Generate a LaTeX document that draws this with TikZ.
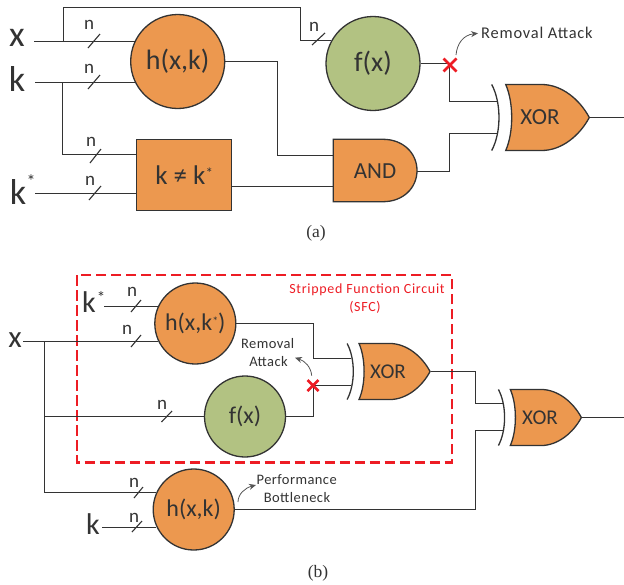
\documentclass[tikz,border=0pt]{standalone}
\usepackage{fontspec}
\setmainfont{Carlito}
\newfontfamily\capfont{Liberation Serif}
\newfontfamily\smallfont[LetterSpace=5]{Carlito}
\newfontfamily\smallfontb[LetterSpace=3]{Carlito}
\usetikzlibrary{arrows.meta}
\definecolor{orng}{HTML}{EC984F}
\definecolor{grn}{HTML}{B2C282}
\definecolor{ink}{HTML}{333333}
\definecolor{inkb}{HTML}{555555}
\definecolor{redc}{HTML}{ED1C24}
\newcommand{\fs}[1]{\fontsize{#1}{#1}\selectfont}
\tikzset{
  wire/.style={draw=ink,line width=1.3pt,line join=miter},
  thin wire/.style={draw=ink,line width=1.1pt},
  blockc/.style={circle,draw=ink,line width=1.3pt,inner sep=0pt,text=ink},
  orangec/.style={blockc,fill=orng},
  greenc/.style={blockc,fill=grn},
  bigc/.style={minimum size=94pt,font=\fs{28}},
  smallc/.style={minimum size=81pt,font=\fs{24}},
  rectb/.style={draw=ink,line width=1.3pt,fill=orng},
  lab/.style={inner sep=0pt,text=ink},
  biglab/.style={lab,font=\fs{36}},
  nlab/.style={lab,font=\fs{19}},
  note/.style={lab,font=\smallfont\fs{16.4}},
  notesmall/.style={lab,font=\smallfontb\fs{14.5}},
  gatelab/.style={lab,font=\fs{23}},
  rednote/.style={lab,font=\smallfont\fs{14},text=redc},
  callout/.style={draw=inkb,line width=.8pt,-{Stealth[length=7pt,width=6pt]}},
  cross/.style={draw=redc,line width=2.5pt},
  sfcbox/.style={draw=redc,line width=2.4pt,dash pattern=on 10.5pt off 4.5pt},
  caplabel/.style={lab,font=\capfont\fs{17.5}}
}
% #1 x of body left, #2 y of the middle, #3 scale
\newcommand{\xorgate}[3]{%
  \begin{scope}[shift={(#1,#2)},scale=#3]
    \draw[rectb] (0,-33) -- (36,-33) .. controls (56,-33) and (74,-18) .. (83.6,0)
      .. controls (74,18) and (56,33) .. (36,33) -- (0,33)
      .. controls (8,15) and (8,-15) .. (0,-33) -- cycle;
    \draw[wire] (-14,-33) .. controls (-4.3,-15) and (-4.3,15) .. (-14,33);
  \end{scope}}
% #1 name, #2/#3 slash start, #4/#5 slash end, #6/#7 position of the n
\newcommand{\busmark}[7]{%
  \draw[thin wire] (#2,#3) -- (#4,#5);
  \node[nlab] (#1) at (#6,#7) {n};}
\newcommand{\redx}[3]{%
  \draw[cross] (#1-#3,#2-#3) -- (#1+#3,#2+#3) (#1-#3,#2+#3) -- (#1+#3,#2-#3);}
\begin{document}
\begin{tikzpicture}[x=1pt,y=-1pt]
\useasboundingbox (0,0) rectangle (624,584);
% ---------- (a) ----------
\node[orangec,bigc] (h1) at (177.7,61.5) {h(x,k)};
\node[greenc,bigc] (f1) at (373,63.5) {f(x)};
\node[rectb,minimum width=95pt,minimum height=71pt,inner sep=0pt,anchor=north west,text=ink,font=\fs{27}] (cmp) at (136,139) {k ≠ k\raisebox{6pt}{\fs{15}*}};
\draw[rectb] (333.3,139.3) -- (383,139.3) .. controls (403,139.3) and (417,153) .. (417,170.5)
  .. controls (417,188) and (403,201.7) .. (383,201.7) -- (333.3,201.7) -- cycle;
\node[gatelab] (and1) at (375,171) {AND};
\xorgate{505.7}{117.5}{1}
\node[gatelab] (xor1) at (540,117.5) {XOR};

\node[biglab] (lx1) at (17,38) {x};
\node[biglab] (lk1) at (17,79) {k};
\node[biglab] (lks) at (18,192) {k};
\node[lab,font=\fs{18}] (lkss) at (31,181) {*};

\coordinate (ax) at (34,41.5);
\coordinate (ak) at (35,82.5);
\coordinate (aks) at (35,193.5);
\coordinate (bx) at (63.5,41.5);
\coordinate (bk) at (62.5,82.5);
\coordinate (bt) at (300.5,7.5);
\coordinate (fin) at (300.5,40.5);
\coordinate (cmpA) at (62.5,154.5);
\coordinate (andA) at (333.3,155.5);
\coordinate (andB) at (333.3,186.5);
\coordinate (andO) at (417,171.5);
\coordinate (xorA) at (497,101.5);
\coordinate (xorB) at (498,133.5);
\coordinate (xorO) at (589.3,117.5);
\coordinate (aout) at (624,117.5);

\draw[wire] (ax) -- (ax -| h1.155.2);
\draw[wire] (ak) -- (ak -| h1.206.2);
\draw[wire] (bx) |- (bt) -- (fin) -- (fin -| f1.151.1);
\draw[wire] (bk) -- (cmpA) -- (cmpA -| cmp.west);
\draw[wire] (aks) -- (aks -| cmp.west);
\draw[wire] (h1.east) -| (277.5,155.5) -- (andA);
\draw[wire] (andB -| cmp.east) -- (andB);
\draw[wire] (f1.east) -| (449.5,101.5) -- (xorA);
\draw[wire] (andO) -| (449.5,133.5) -- (xorB);
\draw[wire] (xorO) -- (aout);

\busmark{na1}{88}{48}{100}{34}{89}{25}
\busmark{na2}{88}{89}{100}{75}{89}{69}
\busmark{na3}{90}{163}{101}{149}{91}{142}
\busmark{na4}{89}{200}{101}{186}{90}{181}
\busmark{na5}{312}{45}{325}{33}{314}{27}

\redx{450}{65}{6.5}
\node[note,anchor=west] (rem1) at (481,33) {Removal Attack};
\draw[callout,shorten >=3pt] (456,55) .. controls (457,44) and (463,35) .. (rem1.west);
\node[caplabel] (capa) at (316,233) {(a)};

% ---------- (b) ----------
\draw[sfcbox] (77,275) rectangle (451.7,462.3);
\node[rednote] (sfc1) at (367,289.5) {Stripped Function Circuit};
\node[rednote] (sfc2) at (365,307.5) {(SFC)};

\node[orangec,smallc] (h2) at (195.3,323.5) {h(x,k\raisebox{5pt}{\fs{12}*})};
\node[greenc,smallc] (f2) at (245,416.5) {f(x)};
\node[orangec,smallc] (h3) at (193.7,509.5) {h(x,k)};
\xorgate{359}{371.5}{.85}
\node[gatelab,font=\fs{21}] (xor2) at (388,372) {XOR};
\xorgate{510.3}{417.5}{.85}
\node[gatelab,font=\fs{21}] (xor3) at (540,418) {XOR};

\node[biglab,font=\fs{31}] (lx2) at (15,340) {x};
\node[biglab,font=\fs{30}] (lks2) at (89,302) {k};
\node[lab,font=\fs{17}] (lks2s) at (101,297) {*};
\node[biglab,font=\fs{30}] (lk2) at (93,524.5) {k};

\coordinate (cx) at (23,341.5);
\coordinate (cb) at (44.5,341.5);
\coordinate (cb2) at (44.5,492.5);
\coordinate (cm) at (44.5,416.5);
\coordinate (ck) at (102,527.5);
\coordinate (cks) at (104,306.5);
\coordinate (xa1) at (351,358.5);
\coordinate (xb1) at (351,385.5);
\coordinate (xo1) at (431,371.5);
\coordinate (xa2) at (504,403.5);
\coordinate (xb2) at (504,430.5);
\coordinate (xo2) at (582,417.5);
\coordinate (bout) at (624,417.5);

\draw[wire] (cks) -- (cks -| h2.155.6);
\draw[wire] (cx) -- (cx -| h2.205.9);
\draw[wire] (cb) -- (cb2) -- (cb2 -| h3.155.6);
\draw[wire] (cm) -- (f2.west);
\draw[wire] (ck) -- (ck -| h3.205.9);
\draw[wire] (h2.east) -| (313.5,358.5) -- (xa1);
\draw[wire] (f2.east) -| (313.5,385.5) -- (xb1);
\draw[wire] (xo1) -| (475.5,403.5) -- (xa2);
\draw[wire] (h3.east) -| (475.5,430.5) -- (xb2);
\draw[wire] (xo2) -- (bout);

\busmark{nb1}{131}{312}{141}{300}{132}{292}
\busmark{nb2}{131}{347}{141}{335}{127}{330}
\busmark{nb3}{161.5}{422}{172}{411}{162}{405}
\busmark{nb4}{134}{498}{143}{487}{134}{483}
\busmark{nb5}{132}{532}{142}{521}{134}{518}

\redx{313}{385.5}{5.5}
\node[notesmall] (rem2) at (267.7,343.7) {Removal};
\node[notesmall] (rem3) at (268.5,361.5) {Attack};
\draw[callout] (311.7,375.7) .. controls (311,367) and (305,361) .. (295,357.7);
\node[notesmall] (perf1) at (296.7,479.3) {Performance};
\node[notesmall] (perf2) at (297,497.5) {Bottleneck};
\draw[callout] (238,502) .. controls (238,494) and (245,488) .. (256,485);
\node[caplabel] (capb) at (318,573) {(b)};
\end{tikzpicture}
\end{document}
